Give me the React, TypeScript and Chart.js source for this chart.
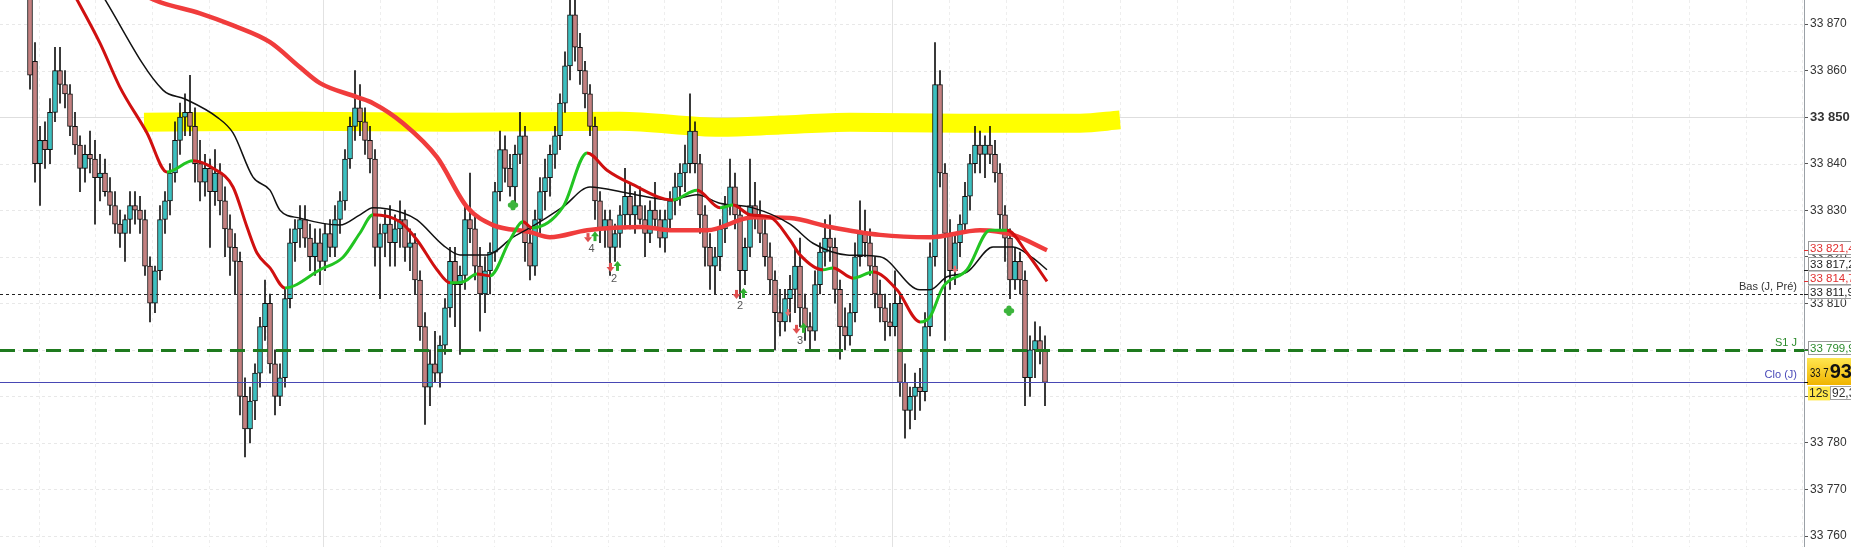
import React, { useEffect, useRef } from "react";
import { Chart, registerables } from "chart.js";

Chart.register(...registerables);

// ---------- DATA ----------
// candle index i (time order), open / high / low / close
const opens = [
  33878, 33862, 33840, 33845, 33843, 33851, 33860, 33857, 33855, 33848,
  33844, 33839, 33842, 33841, 33837, 33838, 33834, 33831, 33827, 33825,
  33828, 33831, 33830, 33828, 33818, 33810, 33817, 33828, 33832, 33838,
  33845, 33850, 33851, 33848, 33840, 33836, 33839, 33834, 33838, 33832,
  33826, 33822, 33819, 33790, 33783, 33789, 33795, 33805, 33810, 33797,
  33790, 33794, 33811, 33823, 33826, 33828, 33824, 33820, 33823, 33819,
  33825, 33822, 33828, 33832, 33841, 33848, 33852, 33849, 33845, 33841,
  33822, 33825, 33827, 33823, 33826, 33828, 33822, 33823, 33815, 33805,
  33792, 33797, 33795, 33801, 33809, 33819, 33814, 33816, 33828, 33826,
  33818, 33812, 33817, 33821, 33834, 33843, 33839, 33835, 33842, 33846,
  33823, 33818, 33828, 33834, 33837, 33842, 33846, 33853, 33861, 33872,
  33865, 33860, 33855, 33848, 33832, 33826, 33828, 33822, 33825, 33829,
  33833, 33829, 33831, 33828, 33825, 33830, 33828, 33824, 33828, 33832,
  33835, 33838, 33840, 33847, 33840, 33829, 33822, 33818, 33820, 33826,
  33831, 33835, 33829, 33817, 33822, 33831, 33829, 33825, 33820, 33815,
  33808, 33806, 33811, 33813, 33818, 33809, 33805, 33804, 33814, 33821,
  33824, 33822, 33813, 33805, 33803, 33808, 33820, 33825, 33823, 33818,
  33812, 33809, 33806, 33805, 33810, 33793, 33787, 33790, 33792, 33791,
  33805, 33820, 33857, 33838, 33825, 33817, 33823, 33827, 33833, 33840,
  33844, 33842, 33844, 33842, 33838, 33829, 33824, 33815, 33819, 33815,
  33794, 33800, 33802, 33800,
];
const highs = [
  33884, 33866, 33848, 33849, 33854, 33865, 33865, 33860, 33857, 33851,
  33846, 33844, 33847, 33845, 33842, 33841, 33837, 33834, 33830, 33829,
  33834, 33834, 33833, 33830, 33820, 33818, 33831, 33834, 33840, 33849,
  33853, 33855, 33859, 33852, 33845, 33842, 33841, 33843, 33840, 33835,
  33829, 33825, 33821, 33794, 33792, 33797, 33807, 33815, 33812, 33800,
  33797, 33813, 33826, 33828, 33831, 33831, 33827, 33826, 33826, 33827,
  33828, 33831, 33834, 33843, 33850, 33860, 33857, 33852, 33848, 33843,
  33827, 33830, 33831, 33829, 33832, 33830, 33826, 33825, 33817, 33808,
  33800, 33804, 33803, 33811, 33822, 33822, 33818, 33831, 33838, 33829,
  33822, 33820, 33823, 33836, 33847, 33846, 33842, 33844, 33851, 33848,
  33826, 33830, 33837, 33841, 33844, 33848, 33855, 33864, 33880, 33876,
  33868, 33862, 33857, 33850, 33834, 33830, 33830, 33827, 33831, 33839,
  33836, 33834, 33835, 33831, 33832, 33836, 33830, 33830, 33834, 33838,
  33840, 33844, 33855, 33849, 33842, 33831, 33825, 33822, 33828, 33833,
  33841, 33838, 33831, 33824, 33841, 33836, 33832, 33828, 33823, 33817,
  33813, 33813, 33816, 33822, 33824, 33812, 33808, 33817, 33823, 33828,
  33829, 33824, 33815, 33809, 33810, 33823, 33832, 33830, 33826, 33820,
  33815, 33812, 33810, 33817, 33812, 33797, 33792, 33795, 33796, 33808,
  33823, 33866, 33860, 33840, 33828, 33825, 33829, 33836, 33842, 33848,
  33847, 33846, 33848, 33845, 33840, 33831, 33826, 33822, 33821, 33817,
  33803, 33806, 33805, 33803,
];
const lows = [
  33856, 33836, 33831, 33839, 33840, 33849, 33853, 33852, 33846, 33842,
  33834, 33836, 33838, 33827, 33832, 33833, 33829, 33825, 33822, 33819,
  33825, 33827, 33825, 33816, 33806, 33808, 33815, 33825, 33829, 33836,
  33842, 33846, 33846, 33836, 33832, 33833, 33822, 33831, 33829, 33820,
  33816, 33812, 33786, 33777, 33780, 33785, 33792, 33802, 33795, 33786,
  33788, 33792, 33809, 33819, 33822, 33822, 33817, 33816, 33814, 33817,
  33820, 33820, 33825, 33830, 33839, 33845, 33846, 33842, 33838, 33818,
  33811, 33820, 33818, 33818, 33822, 33819, 33817, 33812, 33802, 33784,
  33788, 33793, 33792, 33799, 33807, 33805, 33799, 33813, 33823, 33815,
  33804, 33808, 33812, 33819, 33832, 33836, 33833, 33831, 33840, 33819,
  33815, 33816, 33825, 33830, 33833, 33839, 33843, 33851, 33858, 33862,
  33857, 33852, 33846, 33828, 33823, 33822, 33816, 33819, 33822, 33826,
  33826, 33825, 33827, 33820, 33823, 33826, 33822, 33821, 33826, 33829,
  33831, 33834, 33838, 33838, 33825, 33818, 33813, 33812, 33817, 33823,
  33829, 33826, 33811, 33814, 33820, 33826, 33823, 33818, 33812, 33800,
  33803, 33804, 33806, 33808, 33805, 33802, 33800, 33802, 33812, 33818,
  33819, 33810, 33798, 33800, 33801, 33806, 33818, 33820, 33816, 33809,
  33806, 33802, 33803, 33803, 33790, 33781, 33783, 33785, 33787, 33789,
  33803, 33818, 33835, 33802, 33813, 33814, 33820, 33825, 33830, 33838,
  33838, 33837, 33840, 33836, 33826, 33819, 33811, 33813, 33812, 33788,
  33790, 33794, 33797, 33788,
];
const closes = [
  33859, 33840, 33845, 33843, 33851, 33860, 33857, 33855, 33848, 33844,
  33839, 33842, 33841, 33837, 33838, 33834, 33831, 33827, 33825, 33828,
  33831, 33830, 33828, 33818, 33810, 33817, 33828, 33832, 33838, 33845,
  33850, 33851, 33848, 33840, 33836, 33839, 33834, 33838, 33832, 33826,
  33822, 33819, 33790, 33783, 33789, 33795, 33805, 33810, 33797, 33790,
  33794, 33811, 33823, 33826, 33828, 33824, 33820, 33823, 33819, 33825,
  33822, 33828, 33832, 33841, 33848, 33852, 33849, 33845, 33841, 33822,
  33825, 33827, 33823, 33826, 33828, 33822, 33823, 33815, 33805, 33792,
  33797, 33795, 33801, 33809, 33819, 33814, 33816, 33828, 33826, 33818,
  33812, 33817, 33821, 33834, 33843, 33839, 33835, 33842, 33846, 33823,
  33818, 33828, 33834, 33837, 33842, 33846, 33853, 33861, 33872, 33865,
  33860, 33855, 33848, 33832, 33826, 33828, 33822, 33825, 33829, 33833,
  33829, 33831, 33828, 33825, 33830, 33828, 33824, 33828, 33832, 33835,
  33838, 33840, 33847, 33840, 33829, 33822, 33818, 33820, 33826, 33831,
  33835, 33829, 33817, 33822, 33831, 33829, 33825, 33820, 33815, 33808,
  33806, 33811, 33813, 33818, 33809, 33805, 33804, 33814, 33821, 33824,
  33822, 33813, 33805, 33803, 33808, 33820, 33825, 33823, 33818, 33812,
  33809, 33806, 33805, 33810, 33793, 33787, 33790, 33792, 33791, 33805,
  33820, 33857, 33838, 33825, 33817, 33823, 33827, 33833, 33840, 33844,
  33842, 33844, 33842, 33838, 33829, 33824, 33815, 33819, 33815, 33794,
  33800, 33802, 33800, 33793,
];

// slow moving average (thick red)
const slowMaIdx = [20, 25, 34, 40.6, 48, 54, 58, 65.4, 68.6, 74.6, 81.4, 87.4, 92.6, 100, 104, 111.4, 122.6, 128, 135.4, 144.6, 152, 160, 170, 180, 190, 196.6, 203.4];
const slowMaVal = [33878, 33875.1, 33872.3, 33869.7, 33866.1, 33860.7, 33857.3, 33854.3, 33853.0, 33848.7, 33841.4, 33830.7, 33826.8, 33825.3, 33824.2, 33825.7, 33826.4, 33825.7, 33825.7, 33828.5, 33828.3, 33826.4, 33824.7, 33824.2, 33825.7, 33824.7, 33821.4];

// medium moving average (black)
const midMaIdx = [14, 26.6, 31, 37.4, 40.6, 44.6, 48, 50, 54, 62, 66, 68.6, 74.6, 77.4, 82.6, 86, 91.4, 96.6, 100, 106.6, 112, 119.4, 128, 133.4, 138, 144.6, 152, 156.6, 163.4, 170, 178, 180, 183.4, 187.4, 192.6, 196.6, 200.6, 203.4];
const midMaVal = [33877, 33855.8, 33853.9, 33850.0, 33846.6, 33837.1, 33834.3, 33830.0, 33828.3, 33826.8, 33829.0, 33830.5, 33829.4, 33827.9, 33822.5, 33820.4, 33820.4, 33824.2, 33826.2, 33830.7, 33835.0, 33833.7, 33832.2, 33833.3, 33831.5, 33830.5, 33827.0, 33822.9, 33820.4, 33820.0, 33812.9, 33812.9, 33815.7, 33816.7, 33822.1, 33822.1, 33819.7, 33817.2];

// fast moving average (red when falling, green when rising)
const fastMaIdx = [8, 14, 18, 23.4, 27.4, 32.6, 36.6, 40.6, 43.4, 45.4, 48, 51, 58, 62.6, 66, 68.6, 74, 77.4, 81.4, 84, 86.6, 89.4, 92, 96, 98.6, 100.4, 106.6, 111.4, 115.4, 120, 128.6, 133.4, 138, 140.6, 144, 148, 152, 154, 158.6, 160.6, 164.6, 168.6, 173.4, 178, 180, 182.6, 187.4, 192, 195.4, 199.4, 203.4];
const fastMaVal = [33878, 33865.9, 33856.4, 33846.6, 33838.2, 33840.6, 33839.0, 33835.0, 33826.4, 33820.8, 33817.6, 33813.3, 33817.2, 33819.9, 33825.1, 33829.0, 33827.5, 33823.6, 33817.2, 33814.4, 33814.6, 33816.3, 33815.9, 33823.6, 33827.5, 33826.2, 33830.7, 33842.3, 33838.6, 33835.8, 33832.2, 33834.3, 33830.5, 33831.1, 33829.0, 33828.5, 33823.6, 33820.4, 33817.2, 33817.6, 33815.4, 33816.7, 33812.9, 33806.0, 33807.1, 33813.5, 33817.2, 33825.7, 33825.7, 33820.8, 33814.7];

// hand-drawn yellow resistance zone
const zoneIdx = [22.8, 54, 84, 118, 138, 150, 164, 186, 210, 218];
const zoneVal = [33848.9, 33849.1, 33848.9, 33849.1, 33847.8, 33848.3, 33848.9, 33848.7, 33848.7, 33849.4];

// price levels
const levelNames = ["Bas (J, Pré)", "S1 J", "Clo (J)"];
const levelValues = [33811.9, 33799.9, 33793.1];

// axis tags
const tagValues = [33821.4, 33817.2, 33814.7, 33811.9, 33799.9];
const lastPrice = 33793;
const timerText = "12s";
const bidText = "92,3";

// y ticks
const yMin = 33757.64;
const yMax = 33875.16;
const tickStep = 10;
const boldTick = 33850;

// signals
const signalIdx = [112.3, 116.8, 142, 154];
const signalPrice = [33824, 33817.6, 33811.8, 33804.3];
const signalCount = ["4", "2", "2", "3"];
const cloverIdx = [96.6, 195.8];
const cloverPrice = [33831.1, 33808.4];
const dotIdx = [151.6, 185];
const dotPrice = [33807.9, 33817.2];

// ---------- STYLES ----------
const UP = "rgb(60,192,192)";
const DOWN = "rgb(196,128,128)";
const FONT = "'Liberation Sans', Arial, sans-serif";
const levelStyle = [
  { color: "#222", text: "#333", width: 1, dash: [3, 3] },
  { color: "#1e7a1e", text: "#2a8a2a", width: 3, dash: [15, 8] },
  { color: "#4848b4", text: "#4a4ab8", width: 1, dash: [] as number[] },
];
const tagColors = ["#e03030", "#222", "#e03030", "#222", "#2a8a2a"];

function fmt(v: number, dec: number) {
  const s = v.toFixed(dec);
  const [ip, dp] = s.split(".");
  const ii = ip.replace(/\B(?=(\d{3})+(?!\d))/g, " ");
  return dp ? ii + "," + dp : ii;
}

const overlayPlugin = {
  id: "overlay",
  beforeDatasetsDraw(chart: any) {
    const { ctx, chartArea: a, scales } = chart;
    const x = scales.x;
    const y = scales.y;
    ctx.save();
    ctx.lineWidth = 1;
    y.ticks.forEach((t: any) => {
      const py = Math.round(y.getPixelForValue(t.value)) + 0.5;
      ctx.strokeStyle = t.value === boldTick ? "#dedede" : "#e8e8e8";
      ctx.setLineDash(t.value === boldTick ? [] : [3, 3]);
      ctx.beginPath();
      ctx.moveTo(a.left, py);
      ctx.lineTo(a.right, py);
      ctx.stroke();
    });
    for (let k = 0; k < 32; k++) {
      const v = 1.7 + k * 11.38;
      const px = Math.round(x.getPixelForValue(v)) + 0.5;
      if (px > a.right) break;
      const major = k === 5 || k === 15;
      ctx.strokeStyle = major ? "#e2e2e2" : "#eeeeee";
      ctx.setLineDash(major ? [] : [3, 3]);
      ctx.beginPath();
      ctx.moveTo(px, a.top);
      ctx.lineTo(px, a.bottom);
      ctx.stroke();
    }
    ctx.restore();
  },
  afterDatasetsDraw(chart: any) {
    const { ctx, chartArea: a, scales } = chart;
    const x = scales.x;
    const y = scales.y;
    ctx.save();
    levelValues.forEach((v, i) => {
      const st = levelStyle[i];
      const py = Math.round(y.getPixelForValue(v)) + (st.width % 2 ? 0.5 : 0);
      ctx.strokeStyle = st.color;
      ctx.lineWidth = st.width;
      ctx.setLineDash(st.dash);
      ctx.beginPath();
      ctx.moveTo(a.left, py);
      ctx.lineTo(a.right, py);
      ctx.stroke();
      ctx.setLineDash([]);
      ctx.fillStyle = st.text;
      ctx.font = "11px " + FONT;
      ctx.textAlign = "right";
      ctx.textBaseline = "bottom";
      ctx.fillText(levelNames[i], a.right - 7, py - 2);
    });
    const downArrow = (cx: number, cy: number, col: string, s: number) => {
      ctx.fillStyle = col;
      ctx.fillRect(cx - 1.5 * s, cy - 5 * s, 3 * s, 4.5 * s);
      ctx.beginPath();
      ctx.moveTo(cx - 4 * s, cy - 1 * s);
      ctx.lineTo(cx + 4 * s, cy - 1 * s);
      ctx.lineTo(cx, cy + 4 * s);
      ctx.closePath();
      ctx.fill();
    };
    const upArrow = (cx: number, cy: number, col: string) => {
      ctx.fillStyle = col;
      ctx.fillRect(cx - 1.5, cy - 1.5, 3, 5.5);
      ctx.beginPath();
      ctx.moveTo(cx - 4, cy - 1);
      ctx.lineTo(cx + 4, cy - 1);
      ctx.lineTo(cx, cy - 6);
      ctx.closePath();
      ctx.fill();
    };
    signalIdx.forEach((v, i) => {
      const cx = x.getPixelForValue(v);
      const cy = y.getPixelForValue(signalPrice[i]);
      downArrow(cx - 3.5, cy, "#e05050", 1);
      upArrow(cx + 3.5, cy - 1, "#30b030");
      ctx.fillStyle = "#555";
      ctx.font = "11px " + FONT;
      ctx.textAlign = "center";
      ctx.textBaseline = "middle";
      ctx.fillText(signalCount[i], cx, cy + 11);
    });
    dotIdx.forEach((v, i) => {
      downArrow(x.getPixelForValue(v), y.getPixelForValue(dotPrice[i]), "#e87070", 0.8);
    });
    cloverIdx.forEach((v, i) => {
      const cx = x.getPixelForValue(v);
      const cy = y.getPixelForValue(cloverPrice[i]);
      ctx.fillStyle = "#3cb43c";
      [[0, -2.6], [0, 2.6], [-2.6, 0], [2.6, 0]].forEach(([dx, dy]) => {
        ctx.beginPath();
        ctx.arc(cx + dx, cy + dy, 2.6, 0, Math.PI * 2);
        ctx.fill();
      });
    });
    ctx.restore();
  },
  afterDraw(chart: any) {
    const { ctx, chartArea: a, scales } = chart;
    const y = scales.y;
    const W = chart.width;
    ctx.save();
    const tagH = 14;
    const order = tagValues.map((v, i) => i).sort((p, q) => tagValues[p] - tagValues[q]);
    let prevTop = Infinity;
    order.forEach((i) => {
      const vy = y.getPixelForValue(tagValues[i]);
      let top = vy - 2 - tagH / 2;
      if (top + tagH > prevTop) top = prevTop - tagH;
      prevTop = top;
      ctx.fillStyle = "#fff";
      ctx.fillRect(a.right + 4, top, W - a.right, tagH);
      ctx.strokeStyle = "#9a9a9a";
      ctx.lineWidth = 1;
      ctx.strokeRect(Math.round(a.right + 4) + 0.5, Math.round(top) + 0.5, W - a.right, tagH - 1);
      ctx.strokeStyle = tagColors[i];
      ctx.beginPath();
      ctx.moveTo(a.right, Math.round(vy) + 0.5);
      ctx.lineTo(a.right + 4, Math.round(vy) + 0.5);
      ctx.stroke();
      ctx.fillStyle = tagColors[i];
      ctx.font = "11.5px " + FONT;
      ctx.textAlign = "left";
      ctx.textBaseline = "middle";
      ctx.fillText(fmt(tagValues[i], 1), a.right + 6, top + tagH / 2 + 0.5);
    });
    // last price box
    const py = y.getPixelForValue(lastPrice);
    const bx = a.right + 3;
    const bt = Math.round(py - 24);
    const g = ctx.createLinearGradient(0, bt, 0, bt + 27);
    g.addColorStop(0, "#ffe650");
    g.addColorStop(1, "#f0b400");
    ctx.fillStyle = g;
    ctx.fillRect(bx, bt, W - bx, 27);
    ctx.fillStyle = "#111";
    ctx.fillRect(a.right, Math.round(py), 4, 1);
    const full = fmt(lastPrice, 0);
    const head = full.slice(0, full.length - 2);
    const tail = full.slice(full.length - 2);
    ctx.textAlign = "left";
    ctx.textBaseline = "alphabetic";
    ctx.font = "12px " + FONT;
    const hw = ctx.measureText(head).width;
    ctx.save();
    ctx.translate(a.right + 6, py - 5);
    ctx.scale(0.8, 1);
    ctx.fillText(head, 0, 0);
    ctx.restore();
    ctx.font = "bold 20px " + FONT;
    ctx.fillText(tail, a.right + 6 + hw * 0.8 + 1, py - 4);
    // timer + bid boxes
    ctx.fillStyle = "#ffe84a";
    ctx.fillRect(a.right + 4, py + 4, 22, 14);
    ctx.fillStyle = "#fff";
    ctx.fillRect(a.right + 26, py + 4, W - a.right, 14);
    ctx.strokeStyle = "#a0a0a0";
    ctx.strokeRect(Math.round(a.right + 26) + 0.5, Math.round(py + 4) + 0.5, W - a.right, 13);
    ctx.fillStyle = "#222";
    ctx.font = "12px " + FONT;
    ctx.textBaseline = "middle";
    ctx.fillText(timerText, a.right + 5, py + 11.5);
    ctx.fillStyle = "#333";
    ctx.fillText(bidText, a.right + 28, py + 11.5);
    ctx.restore();
  },
};

export default function App() {
  const ref = useRef<HTMLCanvasElement | null>(null);
  useEffect(() => {
    if (!ref.current) return;
    const bodies = opens.map((o, i) => ({ x: i, y: [Math.min(o, closes[i]), Math.max(o, closes[i])] }));
    const wicks = opens.map((o, i) => ({ x: i, y: [lows[i], highs[i]] }));
    const bodyColors = opens.map((o, i) => (closes[i] >= o ? UP : DOWN));
    const chart = new Chart(ref.current, {
      type: "bar",
      data: {
        datasets: [
          {
            type: "line",
            data: zoneIdx.map((v, i) => ({ x: v, y: zoneVal[i] })),
            borderColor: "rgb(255,255,0)",
            borderWidth: 19,
            borderCapStyle: "butt",
            pointRadius: 0,
            cubicInterpolationMode: "monotone",
            order: 10,
          } as any,
          {
            data: wicks,
            backgroundColor: "#111",
            barThickness: 1,
            grouped: false,
            order: 6,
          } as any,
          {
            data: bodies,
            backgroundColor: bodyColors,
            borderColor: "#111",
            borderWidth: 1,
            borderSkipped: false,
            barThickness: 5,
            grouped: false,
            order: 5,
          } as any,
          {
            type: "line",
            data: slowMaIdx.map((v, i) => ({ x: v, y: slowMaVal[i] })),
            borderColor: "rgb(240,60,60)",
            borderWidth: 4.5,
            pointRadius: 0,
            cubicInterpolationMode: "monotone",
            order: 3,
          } as any,
          {
            type: "line",
            data: midMaIdx.map((v, i) => ({ x: v, y: midMaVal[i] })),
            borderColor: "#111",
            borderWidth: 1.5,
            pointRadius: 0,
            cubicInterpolationMode: "monotone",
            order: 2,
          } as any,
          {
            type: "line",
            data: fastMaIdx.map((v, i) => ({ x: v, y: fastMaVal[i] })),
            borderColor: "#d01010",
            borderWidth: 3,
            pointRadius: 0,
            cubicInterpolationMode: "monotone",
            segment: {
              borderColor: (c: any) => (c.p1.parsed.y >= c.p0.parsed.y ? "#22c422" : "#d01010"),
            },
            order: 1,
          } as any,
        ],
      },
      options: {
        animation: false,
        responsive: false,
        events: [],
        layout: { padding: 0 },
        plugins: { legend: { display: false }, tooltip: { enabled: false } },
        scales: {
          x: {
            type: "linear",
            display: false,
            offset: false,
            min: -6,
            max: 354.8,
          },
          y: {
            type: "linear",
            position: "right",
            min: yMin,
            max: yMax,
            afterBuildTicks: (s: any) => {
              const t: any[] = [];
              for (let v = Math.ceil(yMin / tickStep) * tickStep; v <= yMax; v += tickStep) t.push({ value: v });
              s.ticks = t;
            },
            afterFit: (s: any) => {
              s.width = 47;
              s.paddingTop = 0;
              s.paddingBottom = 0;
            },
            border: { color: "#9aa0a6", width: 1 },
            grid: { drawOnChartArea: false, drawTicks: true, tickLength: 4, tickColor: "#555" },
            ticks: {
              stepSize: tickStep,
              autoSkip: false,
              padding: 2,
              color: "#333",
              font: (c: any) =>
                c.tick && c.tick.value === boldTick
                  ? { family: FONT, size: 13, weight: "bold" }
                  : { family: FONT, size: 12 },
              callback: (v: any) => fmt(Number(v), 0),
            },
          },
        },
      } as any,
      plugins: [overlayPlugin],
    });
    return () => chart.destroy();
  }, []);
  return (
    <div style={{ position: "absolute", left: 0, top: 0, width: 1851, height: 547, background: "#fff" }}>
      <canvas ref={ref} width={1851} height={547} style={{ display: "block", width: 1851, height: 547 }} />
    </div>
  );
}
